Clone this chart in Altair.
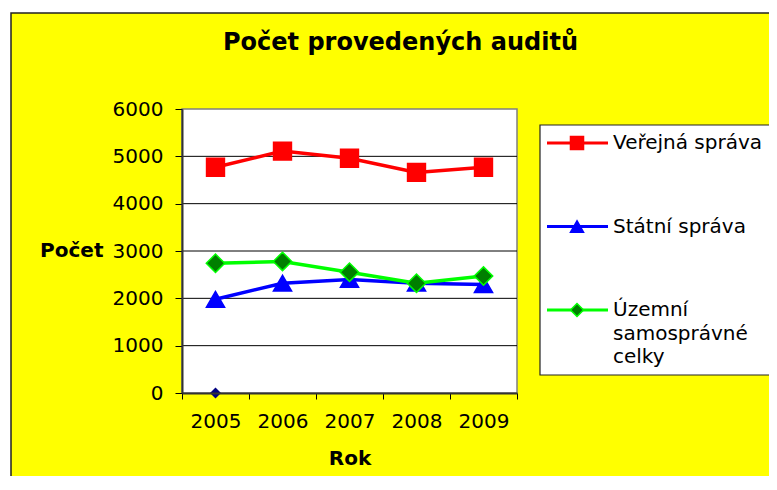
import altair as alt
import pandas as pd

# ---- data ----
years = ["2005", "2006", "2007", "2008", "2009"]
verejna_sprava = [4770, 5110, 4960, 4660, 4770]
statni_sprava = [1980, 2320, 2400, 2320, 2290]
uzemni_celky = [2740, 2780, 2550, 2320, 2470]
series_names = ["Veřejná správa", "Státní správa", "Územní samosprávné celky"]
legend_labels = ["Veřejná správa", "Státní správa", "Územní\nsamosprávné\ncelky"]
legend_slots = [0, 1, 2]
extra_years = ["2005"]
extra_values = [0]
y_ticks = [0, 1000, 2000, 3000, 4000, 5000, 6000]
grid_values = [1000, 2000, 3000, 4000, 5000]

# ---- styles ----
line_colors = ["#ff0000", "#0000ff", "#00ff00"]
fill_colors = ["#ff0000", "#0000ff", "#007f00"]
shapes = ["square", "triangle-up", "diamond"]
sizes = [320, 340, 340]
FONT = "DejaVu Sans"
W, H = 335, 284

rows = []
for name, vals in zip(series_names, [verejna_sprava, statni_sprava, uzemni_celky]):
    for yr, v in zip(years, vals):
        rows.append({"year": yr, "value": v, "series": name})
df = pd.DataFrame(rows)
extra_df = pd.DataFrame({"year": extra_years, "value": extra_values})
grid_df = pd.DataFrame({"v": grid_values})
legend_df = pd.DataFrame({"series": series_names, "label": legend_labels, "slot": legend_slots})
one = pd.DataFrame({"a": [0]})

x_enc = alt.X(
    "year:O",
    sort=years,
    scale=alt.Scale(type="band", domain=years, paddingInner=0, paddingOuter=0),
    axis=alt.Axis(
        title="Rok", labelAngle=0, tickBand="extent", tickSize=6, tickColor="black",
        domainColor="#333333", domainWidth=2, labelFont=FONT, labelFontSize=20,
        labelColor="black", labelPadding=12, titleFont=FONT, titleFontSize=20,
        titleFontWeight="bold", titleColor="black", titleY=65, titleBaseline="middle",
        grid=False, zindex=1,
    ),
)
y_scale = alt.Scale(domain=[0, 6000], nice=False)
y_enc = alt.Y(
    "value:Q",
    scale=y_scale,
    axis=alt.Axis(
        values=y_ticks, format="d", title="Počet", titleAngle=0, titleAlign="right",
        titleBaseline="middle", titleX=-79, titleY=141, titleFont=FONT,
        titleFontSize=20, titleFontWeight="bold", titleColor="black",
        tickSize=7, tickColor="black", domainColor="#333333", domainWidth=2,
        labelFont=FONT, labelFontSize=20, labelColor="black", labelPadding=12,
        grid=False, zindex=1,
    ),
)

color_scale = alt.Scale(domain=series_names, range=line_colors)
fill_scale = alt.Scale(domain=series_names, range=fill_colors)
shape_scale = alt.Scale(domain=series_names, range=shapes)

bg = alt.Chart(one).mark_rect(fill="#ffff00", stroke="#222222", strokeWidth=1.5).encode(
    x=alt.value(-171), x2=alt.value(W + 400), y=alt.value(-96), y2=alt.value(H + 300)
)
plot_bg = alt.Chart(one).mark_rect(fill="white", stroke="#808080", strokeWidth=1.5).encode(
    x=alt.value(0), x2=alt.value(W), y=alt.value(0), y2=alt.value(H)
)
grid = alt.Chart(grid_df).mark_rule(color="black", strokeWidth=1).encode(
    y=alt.Y("v:Q", scale=y_scale), x=alt.value(0), x2=alt.value(W)
)
lines = alt.Chart(df).mark_line(strokeWidth=3.5).encode(
    x=x_enc, y=y_enc,
    color=alt.Color("series:N", scale=color_scale, legend=None),
    detail="series:N",
)
points = alt.Chart(df).mark_point(filled=True, opacity=1, strokeWidth=1.5).encode(
    x=x_enc, y=y_enc,
    fill=alt.Fill("series:N", scale=fill_scale, legend=None),
    stroke=alt.Stroke("series:N", scale=color_scale, legend=None),
    shape=alt.Shape("series:N", scale=shape_scale, legend=None),
    size=alt.Size("series:N", scale=alt.Scale(domain=series_names, range=sizes), legend=None),
)
extra = alt.Chart(extra_df).mark_point(
    filled=True, shape="diamond", color="#000080", size=120, opacity=1
).encode(x=x_enc, y=alt.Y("value:Q", scale=y_scale))

main = alt.layer(bg, plot_bg, grid, lines, points, extra)

leg_y = alt.Y("slot:Q", scale=alt.Scale(domain=[0, 2], range=[34, 201], nice=False, zero=False), axis=None)
leg_box = alt.Chart(one).mark_rect(fill="white", stroke="#222222", strokeWidth=1.2).encode(
    x=alt.value(358), x2=alt.value(W + 400), y=alt.value(16), y2=alt.value(266)
)
leg_lines = alt.Chart(legend_df).mark_rule(strokeWidth=3).encode(
    x=alt.value(365), x2=alt.value(426), y=leg_y,
    color=alt.Color("series:N", scale=color_scale, legend=None),
)
leg_points = alt.Chart(legend_df).mark_point(filled=True, opacity=1, strokeWidth=1.5, size=170).encode(
    x=alt.value(395), y=leg_y,
    fill=alt.Fill("series:N", scale=fill_scale, legend=None),
    stroke=alt.Stroke("series:N", scale=color_scale, legend=None),
    shape=alt.Shape("series:N", scale=shape_scale, legend=None),
)
leg_text = alt.Chart(legend_df).mark_text(
    align="left", baseline="top", dy=-10, font=FONT, fontSize=20, color="black",
    lineBreak="\n", lineHeight=23.5,
).encode(x=alt.value(431), y=leg_y, text="label:N")

legend_group = alt.layer(leg_box, leg_lines, leg_points, leg_text)

chart = alt.layer(main, legend_group).resolve_scale(y="independent").properties(
    width=W, height=H,
    autosize="none",
    padding={"left": 174, "top": 101, "right": 252, "bottom": 83},
    background="white",
    title=alt.TitleParams(
        "Počet provedených auditů", font=FONT, fontSize=24, fontWeight="bold",
        color="black", anchor="middle", frame="group", dx=51, offset=-67,
        baseline="bottom",
    ),
).configure_view(stroke=None)

chart.save("out.html", embed_options={"renderer": "svg", "actions": False})
